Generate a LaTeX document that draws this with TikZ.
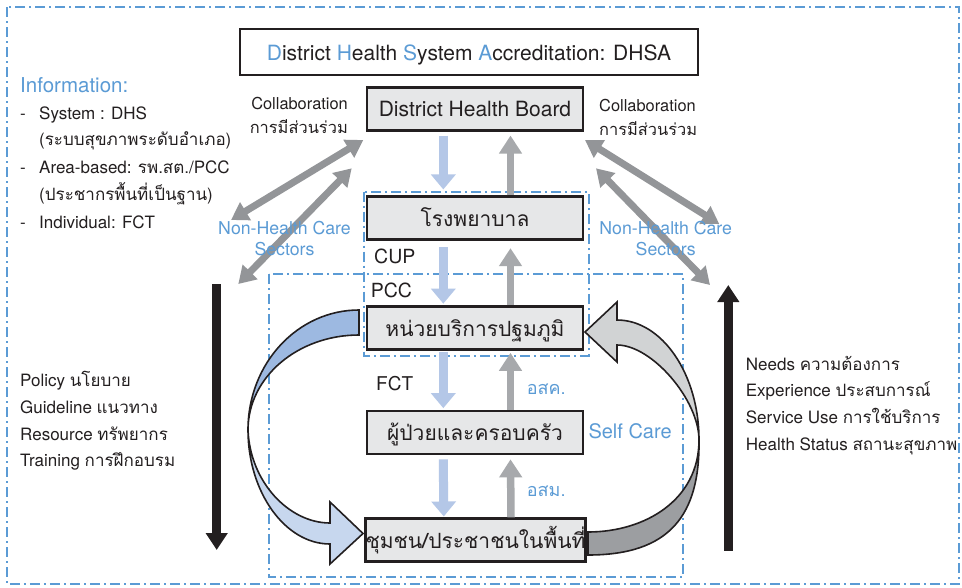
\documentclass[tikz,border=0pt]{standalone}
\usepackage{fontspec}
\setmainfont{TeX Gyre Heros}
\newfontfamily\thai[Script=Thai]{Loma}
\usetikzlibrary{arrows.meta}
\definecolor{dblue}{HTML}{5B9BD5}
\definecolor{tblue}{HTML}{5B9BD5}
\definecolor{ink}{HTML}{231F20}
\definecolor{boxfill}{HTML}{E6E7E8}
\definecolor{arrblue}{HTML}{B4C7E7}
\definecolor{arrgray}{HTML}{A7A9AC}
\definecolor{dgray}{HTML}{939598}
\definecolor{ribA}{HTML}{9DB9E1}
\definecolor{ribB}{HTML}{C7D7EE}
\definecolor{ribC}{HTML}{D1D3D4}
\definecolor{ribD}{HTML}{9C9EA1}
\newcommand\fsz[1]{\fontsize{#1}{#1}\selectfont}
\begin{document}
\begin{tikzpicture}[x=1pt,y=-1pt,
  dashdot/.style={draw=dblue,line width=2pt,dash pattern=on 10pt off 4pt on 2pt off 4pt},
  hbox/.style={draw=ink,fill=boxfill,line width=2.7pt,minimum width=216pt,minimum height=43pt,
    inner sep=0pt,text height=16pt,text depth=0pt,font=\fsz{21},text=ink},
  bdown/.style={draw=arrblue,line width=9pt,-{Triangle[width=24pt,length=15pt]}},
  gup/.style={draw=arrgray,line width=7.5pt,-{Triangle[width=22pt,length=18pt]}},
  dbl/.style={draw=dgray,line width=7pt,{Triangle[width=20pt,length=17pt]}-{Triangle[width=20pt,length=17pt]}},
  blk/.style={draw=ink,line width=8.5pt,-{Triangle[width=21pt,length=17pt]}},
  rib/.style={draw=ink,line width=1.6pt,line join=miter},
  txt/.style={anchor=base west,inner sep=0pt,text=ink,font=\fsz{17}},
  btxt/.style={anchor=base west,inner sep=0pt,text=tblue,font=\fsz{17}}
]
\useasboundingbox (0,0) rectangle (962,587);
\fill[white] (0,0) rectangle (962,587);

% dash-dot frames
\draw[dashdot] (7,7) rectangle (959,584);
\draw[dashdot] (364,191.7) rectangle (588.5,355.7);
\draw[dashdot] (269,274) rectangle (683.3,576.7);

% title
\node[draw=ink,line width=1.3pt,minimum width=458pt,minimum height=46pt,inner sep=0pt,
  font=\fsz{21},text=ink,text height=16pt,text depth=0pt] (title) at (469,52)
  {{\color{tblue}D}istrict {\color{tblue}H}ealth {\color{tblue}S}ystem {\color{tblue}A}ccreditation: DHSA};

% boxes
\node[hbox] (dhb) at (475,108.7) {District Health Board};
\node[hbox] (hosp) at (475,218.3) {\thai โรงพยาบาล};
\node[hbox] (pcc) at (475,328) {\thai หน่วยบริการปฐมภูมิ};
\node[hbox] (pat) at (475,432.5) {\thai ผู้ป่วยและครอบครัว};
\node[hbox,minimum width=217pt] (com) at (475.5,540.3) {\thai ชุมชน/ประชาชนในพื้นที่};

% vertical arrows
\draw[bdown] ([shift={(-31.7,4)}]dhb.south) -- ([shift={(-31.7,-6)}]hosp.north);
\draw[gup] ([shift={(35.5,0)}]hosp.north) -- ([shift={(35.5,4)}]dhb.south);
\draw[bdown] ([shift={(-31.7,6)}]hosp.south) -- ([shift={(-31.7,-1.5)}]pcc.north);
\draw[gup] ([shift={(35.5,0)}]pcc.north) -- ([shift={(35.5,7)}]hosp.south);
\draw[bdown] ([shift={(-31.7,1)}]pcc.south) -- ([shift={(-31.7,-1.5)}]pat.north);
\draw[gup] ([shift={(35.5,0)}]pat.north) -- ([shift={(35.5,2)}]pcc.south);
\draw[bdown] ([shift={(-31.7,4)}]pat.south) -- ([shift={(-31.7,-1)}]com.north);
\draw[gup] ([shift={(35.5,0)}]com.north) -- ([shift={(35.5,4)}]pat.south);

% ribbons (left, blue)
\filldraw[rib,fill=ribA] (359,310) .. controls (298,310) and (248,363) .. (248,430)
  .. controls (248,377) and (298,335) .. (359,335) -- cycle;
\filldraw[rib,fill=ribB] (248,430) .. controls (248,492) and (285,544) .. (330,544)
  -- (330,564) -- (363,533.5) -- (330,502) -- (330,523)
  .. controls (289,523) and (250,482) .. (248,430) -- cycle;
% ribbons (right, gray)
\filldraw[rib,fill=ribC] (617,320) .. controls (662,320) and (699,374) .. (699,440)
  .. controls (699,400) and (652,345) .. (617,345) -- (617,362) -- (585,332) -- (617,302) -- cycle;
\filldraw[rib,fill=ribD] (699,440) .. controls (700,515) and (670,555) .. (588,555)
  -- (588,532) .. controls (645,532) and (699,500) .. (699,440) -- cycle;

% collaboration arrows
\coordinate (l1a) at (363.3,140); \coordinate (l1b) at (231,220);
\coordinate (l2a) at (351.7,168.3); \coordinate (l2b) at (238.3,284);
\coordinate (r1a) at (585,140); \coordinate (r1b) at (719.3,224);
\coordinate (r2a) at (596,168.3); \coordinate (r2b) at (710,285);
\draw[dbl] (l1a) -- (l1b);
\draw[dbl] (l2a) -- (l2b);
\draw[dbl] (r1a) -- (r1b);
\draw[dbl] (r2a) -- (r2b);

% black arrows
\coordinate (bl1) at (216.7,284); \coordinate (bl2) at (216.7,550);
\coordinate (br1) at (728.3,550.7); \coordinate (br2) at (728.3,285);
\draw[blk] (bl1) -- (bl2);
\draw[blk] (br1) -- (br2);

% left info
\node[btxt,font=\fsz{20.5}] (info) at (20,92.7) {Information:};
\node[txt] (d1) at (20,119) {-};
\node[txt] (i1) at (39,119) {System : DHS};
\node[txt] (i1b) at (39,145.7) {({\thai ระบบสุขภาพระดับอำเภอ})};
\node[txt] (d2) at (20,173.3) {-};
\node[txt] (i2) at (39,173.3) {Area-based: {\thai รพ.สต.}/PCC};
\node[txt] (i2b) at (39,200) {({\thai ประชากรพื้นที่เป็นฐาน})};
\node[txt] (d3) at (20,228.3) {-};
\node[txt] (i3) at (39,228.3) {Individual: FCT};

% collaboration labels
\node[txt,anchor=base east,font=\fsz{16.4}] (cl1) at (348,109.3) {Collaboration};
\node[txt,anchor=base east,font=\fsz{16.4}] (cl2) at (348,133.3) {\thai การมีส่วนร่วม};
\node[txt,font=\fsz{16.4}] (cr1) at (599,111.7) {Collaboration};
\node[txt,font=\fsz{16.4}] (cr2) at (599,135) {\thai การมีส่วนร่วม};

% non-health care sectors
\node[btxt,anchor=base,font=\fsz{17.7}] (nl1) at (284.5,234.3) {Non-Health Care};
\node[btxt,anchor=base,font=\fsz{17.7}] (nl2) at (284.5,255) {Sectors};
\node[btxt,anchor=base,font=\fsz{17.7}] (nr1) at (665.7,234.3) {Non-Health Care};
\node[btxt,anchor=base,font=\fsz{17.7}] (nr2) at (665.7,255) {Sectors};

% inner labels
\node[txt,font=\fsz{19.5}] (cup) at (374,263.3) {CUP};
\node[txt,font=\fsz{19.5}] (pccl) at (370.7,297.3) {PCC};
\node[txt,font=\fsz{19}] (fct) at (376,390) {FCT};
\node[btxt,font=\fsz{18}] (osk) at (526.7,394) {\thai อสค.};
\node[btxt,font=\fsz{18}] (osm) at (526.7,496.7) {\thai อสม.};
\node[btxt,font=\fsz{20}] (self) at (588.3,438.3) {Self Care};

% left list
\node[txt] (p1) at (20,386) {Policy {\thai นโยบาย}};
\node[txt] (p2) at (20,413.3) {Guideline {\thai แนวทาง}};
\node[txt] (p3) at (20,440) {Resource {\thai ทรัพยากร}};
\node[txt] (p4) at (20,466.7) {Training {\thai การฝึกอบรม}};

% right list
\node[txt] (n1) at (745.7,370) {Needs {\thai ความต้องการ}};
\node[txt] (n2) at (745.7,396.7) {Experience {\thai ประสบการณ์}};
\node[txt] (n3) at (745.7,423.3) {Service Use {\thai การใช้บริการ}};
\node[txt] (n4) at (745.7,450.7) {Health Status {\thai สถานะสุขภาพ}};
\end{tikzpicture}
\end{document}
